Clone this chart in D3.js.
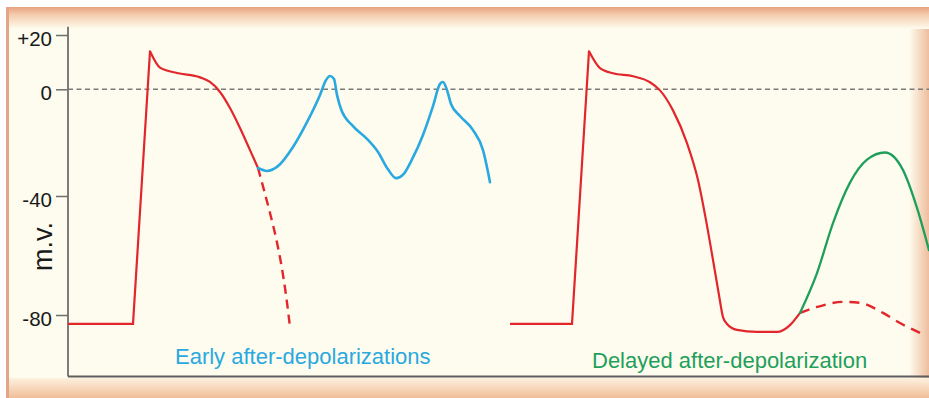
<!DOCTYPE html>
<html>
<head>
<meta charset="utf-8">
<script src="https://cdn.jsdelivr.net/npm/d3@7"></script>
<style>
  html, body { margin: 0; padding: 0; background: #ffffff; }
  svg { display: block; }
  text { font-family: "Liberation Sans", Arial, Helvetica, sans-serif; }
</style>
</head>
<body>
<svg id="chart" width="929" height="398"></svg>
<script>
// Membrane potential (mV) against time (ms).
// Each trace is a list of [time, mV] samples.

// Left: action potential interrupted by early after-depolarizations
const apEarly = [
  [0, -83], [65, -83], [82, 14],
  [92, 8], [109, 6], [132, 4.4], [142, 2.7], [152, -1.0],
  [162, -7.0], [172, -14.5], [182, -22.8], [190, -29.5]
];
const eadTrace = [
  [190, -29.5], [199, -30.6], [209, -29.1], [225, -21.6], [239, -12.3],
  [252, -2.1], [258, 3.4], [262, 4.9], [266, 3.8], [269, -2.1], [273, -7.4],
  [285, -13.8], [299, -18.6], [310, -23.5], [320, -30.0], [328, -33.3],
  [336, -31.6], [344, -26.3], [355, -17.1], [365, -6.3], [372, 2],
  [375, 2.7], [379, -0.3], [383, -5.5], [392, -10], [405, -15.3],
  [415, -22.8], [422, -34.8]
];
const normalRepolEarly = [
  [190, -29.5], [196, -37.8], [202, -45.7], [208, -54.1],
  [213, -62.5], [218, -73.3], [222, -84]
];

// Right: full action potential followed by a delayed after-depolarization
const apDelayed = [
  [442, -83], [504, -83], [521, 14],
  [532, 7.8], [545, 5.9], [565, 4.8], [582, 2.6], [592, -0.4],
  [605, -7.9], [619, -20.2], [630, -34], [638, -48.1], [645, -61.5],
  [651, -73.3], [655, -80.7], [659, -83], [669, -85], [689, -85.7],
  [709, -85.7], [722, -83.4], [732, -79.3]
];
const dadTrace = [
  [732, -79.3], [749, -65.9], [765, -49.1], [782, -35], [799, -26.4],
  [817, -23.7], [835, -30.3], [849, -44], [861, -58.2]
];
const normalRestDelayed = [
  [732, -79.3], [749, -77.3], [775, -75.6], [792, -75.9],
  [815, -79.3], [832, -82.7], [852, -86]
];

const yTicks = [-80, -40, 0, 20];
const yTickLabels = ["-80", "-40", "0", "+20"];
const labelEarly = "Early after-depolarizations";
const labelDelayed = "Delayed after-depolarization";

const W = 929, H = 398;
const svg = d3.select("#chart");

// Scales (the voltage axis is drawn with unequal spacing between ticks)
const x = d3.scaleLinear().domain([0, 861]).range([68, 929]);
const y = d3.scaleLinear().domain([-80, -40, 0, 20]).range([315, 196, 89.3, 35]);
const yTop = 23, yBottom = -100.7;

// ---- Panel frame ----
const defs = svg.append("defs");
const gTop = defs.append("linearGradient").attr("id", "gTop").attr("x1", 0).attr("y1", 0).attr("x2", 0).attr("y2", 1);
gTop.append("stop").attr("offset", 0).attr("stop-color", "#e7a27e");
gTop.append("stop").attr("offset", 0.35).attr("stop-color", "#f4ccad");
gTop.append("stop").attr("offset", 1).attr("stop-color", "#fefcee");
const gBot = defs.append("linearGradient").attr("id", "gBot").attr("x1", 0).attr("y1", 0).attr("x2", 0).attr("y2", 1);
gBot.append("stop").attr("offset", 0).attr("stop-color", "#fdf1df");
gBot.append("stop").attr("offset", 1).attr("stop-color", "#f1bd98");
const gRight = defs.append("linearGradient").attr("id", "gRight").attr("x1", 0).attr("y1", 0).attr("x2", 1).attr("y2", 0);
gRight.append("stop").attr("offset", 0).attr("stop-color", "#fefcee");
gRight.append("stop").attr("offset", 1).attr("stop-color", "#eebd9c");

svg.append("rect").attr("x", 0).attr("y", 0).attr("width", W).attr("height", H).attr("fill", "#ffffff");
svg.append("rect").attr("x", 6).attr("y", 7).attr("width", W - 6).attr("height", H - 7).attr("fill", "#fefcee");
svg.append("rect").attr("x", 909).attr("y", 7).attr("width", 20).attr("height", H - 7).attr("fill", "url(#gRight)");
svg.append("rect").attr("x", 6).attr("y", 7).attr("width", W - 6).attr("height", 22).attr("fill", "url(#gTop)");
svg.append("rect").attr("x", 6).attr("y", 378).attr("width", W - 6).attr("height", 20).attr("fill", "url(#gBot)");
svg.append("rect").attr("x", 6).attr("y", 7).attr("width", 3).attr("height", H - 7).attr("fill", "#e3a587");

// ---- Axes ----
const axisColor = "#6e6e6e";
const yAxis = d3.axisLeft(y)
  .tickValues(yTicks)
  .tickFormat((d, i) => yTickLabels[i])
  .tickSize(12)
  .tickPadding(4);

const gy = svg.append("g").attr("transform", `translate(${x(0)},0)`).call(yAxis);
gy.select(".domain").remove();
gy.selectAll(".tick line").attr("stroke", axisColor).attr("stroke-width", 1.5);
gy.selectAll(".tick text")
  .attr("fill", "#1a1a1a")
  .attr("font-size", 20.5)
  .attr("dy", "0.5em")
  .style("font-family", '"Liberation Sans", Arial, sans-serif');

svg.append("line")
  .attr("x1", x(0)).attr("x2", x(0))
  .attr("y1", y(yTop)).attr("y2", y(yBottom))
  .attr("stroke", axisColor).attr("stroke-width", 1.8);
svg.append("line")
  .attr("x1", x(0)).attr("x2", W)
  .attr("y1", y(yBottom)).attr("y2", y(yBottom))
  .attr("stroke", "#5f5f5f").attr("stroke-width", 2);

svg.append("text")
  .attr("transform", `translate(52,${y(-57)}) rotate(-90)`)
  .attr("text-anchor", "middle")
  .attr("font-size", 27)
  .attr("fill", "#1a1a1a")
  .text("m.v.");

// Zero reference line
svg.append("line")
  .attr("x1", x(0)).attr("x2", W)
  .attr("y1", y(0)).attr("y2", y(0))
  .attr("stroke", "#7a7a7a").attr("stroke-width", 1.4)
  .attr("stroke-dasharray", "5,3.5");

// ---- Traces ----
const straight = d3.line().x(d => x(d[0])).y(d => y(d[1])).curve(d3.curveLinear);
const smooth = d3.line().x(d => x(d[0])).y(d => y(d[1])).curve(d3.curveMonotoneX);

const red = "#e1262c", blue = "#29a9df", green = "#1f9f5c";

function drawAP(points, color) {
  // resting level and upstroke are straight; repolarisation is smooth
  svg.append("path").attr("d", straight(points.slice(0, 3)))
    .attr("fill", "none").attr("stroke", color).attr("stroke-width", 2.2)
    .attr("stroke-linejoin", "miter");
  svg.append("path").attr("d", smooth(points.slice(2)))
    .attr("fill", "none").attr("stroke", color).attr("stroke-width", 2.2)
    .attr("stroke-linecap", "round");
}

svg.append("path").attr("d", smooth(normalRepolEarly))
  .attr("fill", "none").attr("stroke", red).attr("stroke-width", 2.4)
  .attr("stroke-dasharray", "9,6");
svg.append("path").attr("d", smooth(normalRestDelayed))
  .attr("fill", "none").attr("stroke", red).attr("stroke-width", 2.4)
  .attr("stroke-dasharray", "10,7");

drawAP(apEarly, red);
drawAP(apDelayed, red);

svg.append("path").attr("d", smooth(eadTrace))
  .attr("fill", "none").attr("stroke", blue).attr("stroke-width", 2.6)
  .attr("stroke-linecap", "round");
svg.append("path").attr("d", smooth(dadTrace))
  .attr("fill", "none").attr("stroke", green).attr("stroke-width", 2.3)
  .attr("stroke-linecap", "round");

// ---- Trace labels ----
svg.append("text")
  .attr("x", x(107)).attr("y", y(-96.5))
  .attr("font-size", 22).attr("fill", blue)
  .text(labelEarly);
svg.append("text")
  .attr("x", x(524)).attr("y", y(-97.8))
  .attr("font-size", 22).attr("fill", green)
  .text(labelDelayed);
</script>
</body>
</html>
